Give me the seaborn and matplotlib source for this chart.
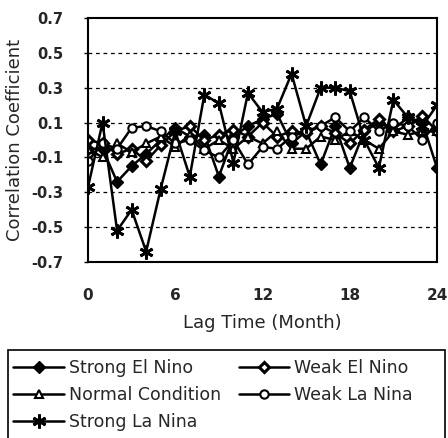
import numpy as np
import pandas as pd
import matplotlib
matplotlib.use("Agg")
import matplotlib.pyplot as plt
import matplotlib.patches as mpatches
import seaborn as sns

lags = list(range(25))
strong_el_nino = [-0.05, -0.05, -0.24, -0.15, -0.08, 0.0, 0.07, 0.02, 0.03, -0.21, 0.02, 0.08, 0.12,
                  0.15, -0.02, 0.05, -0.14, 0.08, -0.16, 0.05, 0.10, 0.06, 0.13, 0.10, -0.16]
weak_el_nino = [0.0, -0.02, -0.08, -0.05, -0.12, -0.03, 0.05, 0.08, 0.0, 0.03, 0.06, 0.02, 0.10,
                0.02, 0.05, 0.04, 0.08, 0.04, -0.02, 0.06, 0.12, 0.05, 0.08, 0.14, 0.05]
normal_condition = [-0.05, -0.10, -0.02, -0.07, -0.02, 0.02, -0.04, 0.03, -0.05, 0.0, -0.05, 0.02, -0.02,
                    0.05, -0.05, -0.05, 0.02, 0.0, 0.05, 0.0, -0.05, 0.05, 0.03, 0.05, 0.05]
weak_la_nina = [-0.12, -0.02, -0.05, 0.07, 0.08, 0.05, -0.02, 0.0, -0.06, -0.10, 0.0, -0.14, -0.04,
                -0.05, 0.02, 0.05, 0.08, 0.13, 0.05, 0.13, 0.05, 0.10, 0.08, 0.0, 0.10]
strong_la_nina = [-0.27, 0.10, -0.52, -0.40, -0.64, -0.28, 0.05, -0.21, 0.26, 0.21, -0.13, 0.27, 0.16,
                  0.18, 0.38, 0.08, 0.30, 0.30, 0.28, 0.0, -0.16, 0.23, 0.13, 0.08, 0.20]

series_names = ["Strong El Nino", "Weak El Nino", "Normal Condition", "Weak La Nina", "Strong La Nina"]
series_vals = [strong_el_nino, weak_el_nino, normal_condition, weak_la_nina, strong_la_nina]
x_ticks = [0, 6, 12, 18, 24]
y_ticks = [0.7, 0.5, 0.3, 0.1, -0.1, -0.3, -0.5, -0.7]

sns.set_theme(style="white")
plt.rcParams['font.family'] = ['DejaVu Sans']

styles = [
    dict(marker="D", markersize=6, markerfacecolor="black", markeredgecolor="black", markeredgewidth=1),
    dict(marker="D", markersize=5, markerfacecolor="white", markeredgecolor="black", markeredgewidth=2.2),
    dict(marker="^", markersize=6, markerfacecolor="white", markeredgecolor="black", markeredgewidth=1.5),
    dict(marker="o", markersize=6, markerfacecolor="white", markeredgecolor="black", markeredgewidth=1.5),
    dict(marker=(6, 2, 0), markersize=10, markerfacecolor="black", markeredgecolor="black", markeredgewidth=2),
]

fig = plt.figure(figsize=(4.48, 4.38), dpi=100)
ax = fig.add_axes([88/448, 1-262/438, (437-88)/448, (262-18)/438])

for name, vals, st in zip(series_names, series_vals, styles):
    sns.lineplot(x=lags, y=vals, ax=ax, color="black", linewidth=1.8, label=name, **st)

ax.set_xlim(0, 24)
ax.set_ylim(-0.7, 0.7)
ax.set_xticks(x_ticks)
ax.set_xticklabels([str(t) for t in x_ticks], fontsize=11, fontweight="bold")
ax.set_yticks(y_ticks)
ax.set_yticklabels([f"{t:.1f}" for t in y_ticks], fontsize=10.5, fontweight="bold")
for yv in [0.5, 0.3, 0.1, -0.1, -0.3, -0.5]:
    ax.axhline(yv, color="black", linestyle=(0, (3, 3)), linewidth=0.9, zorder=0)
for s in ax.spines.values():
    s.set_color("black")
    s.set_linewidth(1.5)
ax.tick_params(axis="x", direction="in", length=4, width=1, pad=19, color="black")
ax.tick_params(axis="y", direction="out", length=3, width=1, pad=15, color="black", left=True)
ax.set_xlabel("Lag Time (Month)", fontsize=13, labelpad=8)
ax.set_ylabel("Correlation Coefficient", fontsize=13, labelpad=5)

handles, labels = ax.get_legend_handles_labels()
ax.get_legend().remove()
order = [0, 2, 4, 1, 3]
leg = fig.legend([handles[i] for i in order], [labels[i] for i in order], ncol=2,
                 loc="upper left", bbox_to_anchor=(10/448, 1-356/438),
                 frameon=False, fontsize=12.5,
                 handlelength=2.9, handletextpad=0.3, columnspacing=1.0, labelspacing=0.5,
                 borderpad=0.2, borderaxespad=0.0)
frame = mpatches.Rectangle((8/448, -0.01), (445-8)/448, (438-350)/438 + 0.01,
                           transform=fig.transFigure, fill=False, edgecolor="black", linewidth=1.2)
fig.add_artist(frame)

fig.savefig("out.png", dpi=100)
